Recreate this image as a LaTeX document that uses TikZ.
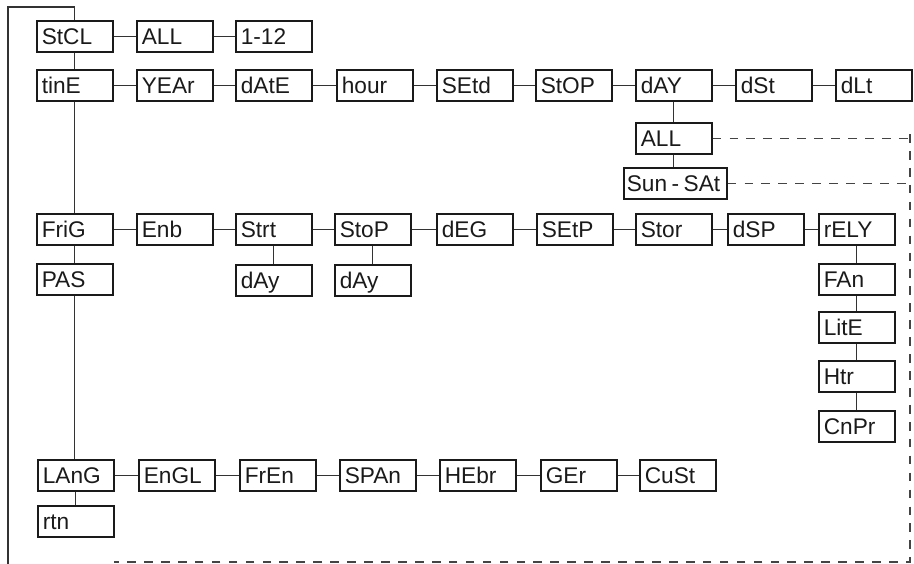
\documentclass[tikz,border=0pt]{standalone}
\usepackage{fontspec}
\setmainfont{Liberation Sans}
\definecolor{boxc}{HTML}{1A1A1A}
\definecolor{linec}{HTML}{333333}
\definecolor{dashc}{HTML}{444444}
\begin{document}
\begin{tikzpicture}[x=0.75pt,y=-0.75pt,
  box/.style={draw=boxc, line width=1.2pt, rectangle, anchor=north west,
    minimum height=23.25pt, minimum width=57pt, text width=49.5pt,
    inner xsep=3.75pt, inner ysep=0pt, align=left,
    text height=12.1pt, text depth=0pt, text=boxc,
    font=\fontsize{17}{18}\selectfont},
  wide/.style={minimum width=77.25pt, text width=72.75pt, inner xsep=2.25pt},
  conn/.style={draw=linec, line width=1pt},
  dconn/.style={draw=dashc, line width=1pt, dash pattern=on 6.5pt off 6.2pt}]
\useasboundingbox (0,0) rectangle (914,564);
% row 1
\node[box] (stcl) at (36,20) {StCL};
\node[box] (all1) at (136,20) {ALL};
\node[box] (m112) at (235,20) {1-12};
% row 2
\node[box] (tine) at (36,69) {tinE};
\node[box] (year) at (136,69) {YEAr};
\node[box] (date) at (235,69) {dAtE};
\node[box] (hour) at (336,69) {hour};
\node[box] (setd) at (436,69) {SEtd};
\node[box] (stopa) at (535,69) {StOP};
\node[box] (day) at (635,69) {dAY};
\node[box] (dst) at (735,69) {dSt};
\node[box] (dlt) at (835,69) {dLt};
\node[box] (all2) at (635,122) {ALL};
\node[box,wide] (sun) at (623,167) {\mbox{Sun\hspace{0.2em}-\hspace{0.2em}SAt}};
% row 3
\node[box] (frig) at (36,213) {FriG};
\node[box] (enb) at (136,213) {Enb};
\node[box] (strt) at (235,213) {Strt};
\node[box] (stopb) at (334,213) {StoP};
\node[box] (deg) at (436,213) {dEG};
\node[box] (setp) at (536,213) {SEtP};
\node[box] (stor) at (635,213) {Stor};
\node[box] (dsp) at (727,213) {dSP};
\node[box] (rely) at (818,213) {rELY};
\node[box] (pas) at (36,263) {PAS};
\node[box] (daya) at (235,264) {dAy};
\node[box] (dayb) at (334,264) {dAy};
\node[box] (fan) at (818,263) {FAn};
\node[box] (lite) at (818,311) {LitE};
\node[box] (htr) at (818,360) {Htr};
\node[box] (cnpr) at (818,410) {CnPr};
% row 4
\node[box] (lang) at (37,459) {LAnG};
\node[box] (engl) at (138,459) {EnGL};
\node[box] (fren) at (239,459) {FrEn};
\node[box] (span) at (339,459) {SPAn};
\node[box] (hebr) at (439,459) {HEbr};
\node[box] (ger) at (540,459) {GEr};
\node[box] (cust) at (639,459) {CuSt};
\node[box] (rtn) at (37,505) {rtn};
% helper coordinates
\coordinate (tl) at (8,7);
\coordinate (bl) at (8,566);
\coordinate (rt) at (910,134);
\coordinate (rb) at (910,562);
\coordinate (lb) at (114,562);
% horizontal connectors
\foreach \a/\b in {stcl/all1,all1/m112,
  tine/year,year/date,date/hour,hour/setd,setd/stopa,stopa/day,day/dst,dst/dlt,
  frig/enb,enb/strt,strt/stopb,stopb/deg,deg/setp,setp/stor,stor/dsp,dsp/rely,
  lang/engl,engl/fren,fren/span,span/hebr,hebr/ger,ger/cust}
  \draw[conn] (\a.east) -- (\b.west);
% vertical connectors
\foreach \a/\b in {stcl/tine,tine/frig,frig/pas,pas/lang,lang/rtn,
  day/all2,strt/daya,stopb/dayb,rely/fan,fan/lite,lite/htr,htr/cnpr}
  \draw[conn] (\a.south) -- (\a.south |- \b.north);
\draw[conn] (all2.south) -- (all2.south |- sun.north);
% loop back line
\draw[conn] (stcl.north) -- (stcl.north |- tl) -- (tl) -- (bl);
% dashed lines
\draw[dconn] (all2.east) -- (all2.east -| rt);
\draw[dconn] (sun.east) -- (sun.east -| rt);
\draw[dconn] (rt) -- (rb) -- (lb);
\end{tikzpicture}
\end{document}
